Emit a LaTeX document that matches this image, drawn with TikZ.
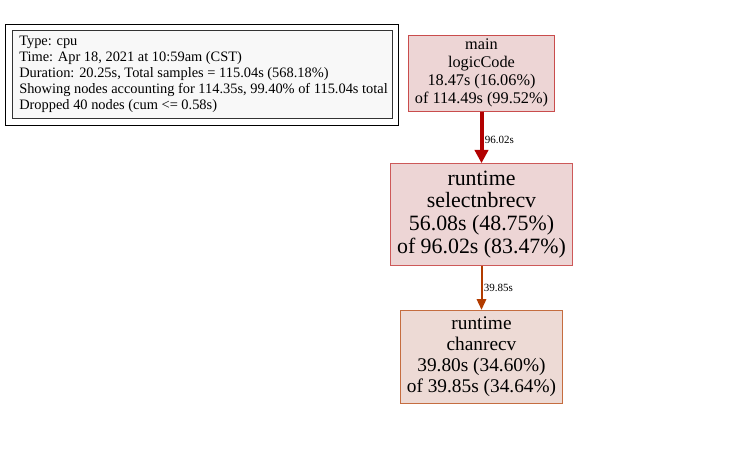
\documentclass[tikz,border=0pt]{standalone}
\usepackage{fontspec}
\setmainfont{Liberation Serif}
\usepackage{tikz}
\usetikzlibrary{arrows.meta, positioning}
\definecolor{hotline}{HTML}{B20000}
\definecolor{warmline}{HTML}{B23C00}
\definecolor{hotfill}{HTML}{EDD5D5}
\definecolor{warmfill}{HTML}{EDDAD5}
\definecolor{legendfill}{HTML}{F8F8F8}
\tikzstyle{func}=[draw,rectangle,align=center,inner sep=0pt,line width=0.75pt]
\tikzstyle{weight}=[right,font=\fontsize{8.25}{9}\selectfont,inner sep=1pt]

\begin{document}
\begin{tikzpicture}[x=0.75pt,y=-0.75pt,node distance=106pt,>={Triangle[length=10pt,width=10pt]}]
    \useasboundingbox (0,0) rectangle (748,451);
    % legend
    \draw[black] (5,24) rectangle (398,125);
    \node[draw=black!80,fill=legendfill,minimum width=285pt,minimum height=66pt,inner sep=0pt] (legend) at (202,74) {};
    \node[anchor=west,align=left,font=\fontsize{10.8}{12}\selectfont,inner sep=0pt] (info) at (19,74) {Type: cpu\\Time: Apr 18, 2021 at 10:59am (CST)\\Duration: 20.25s, Total samples = 115.04s (568.18\%)\\Showing nodes accounting for 114.35s, 99.40\% of 115.04s total\\Dropped 40 nodes (cum <= 0.58s)};
    % call graph
    \node[func, draw=hotline!70, fill=hotfill, minimum width=110pt, minimum height=57pt, font=\fontsize{12.2}{13.5}\selectfont] (main) at (481.5,73) {main\\logicCode\\18.47s (16.06\%)\\of 114.49s (99.52\%)};
    \node[func, draw=hotline!65, fill=hotfill, minimum width=136pt, minimum height=76pt, font=\fontsize{16.4}{16.9}\selectfont, below of=main, node distance=106pt] (sel) {runtime\\selectnbrecv\\56.08s (48.75\%)\\of 96.02s (83.47\%)};
    \node[func, draw=warmline!75, fill=warmfill, minimum width=121pt, minimum height=70pt, font=\fontsize{14.5}{15.75}\selectfont, below of=sel, node distance=107pt] (chan) {runtime\\chanrecv\\39.80s (34.60\%)\\of 39.85s (34.64\%)};
    \draw[->, hotline, line width=3pt] (main) -- node[weight, text=black, pos=0.55] {96.02s} (sel);
    \draw[->, warmline, line width=1.5pt, >={Triangle[length=8pt,width=7pt]}] (sel) -- node[weight, text=black] {39.85s} (chan);
\end{tikzpicture}
\end{document}
